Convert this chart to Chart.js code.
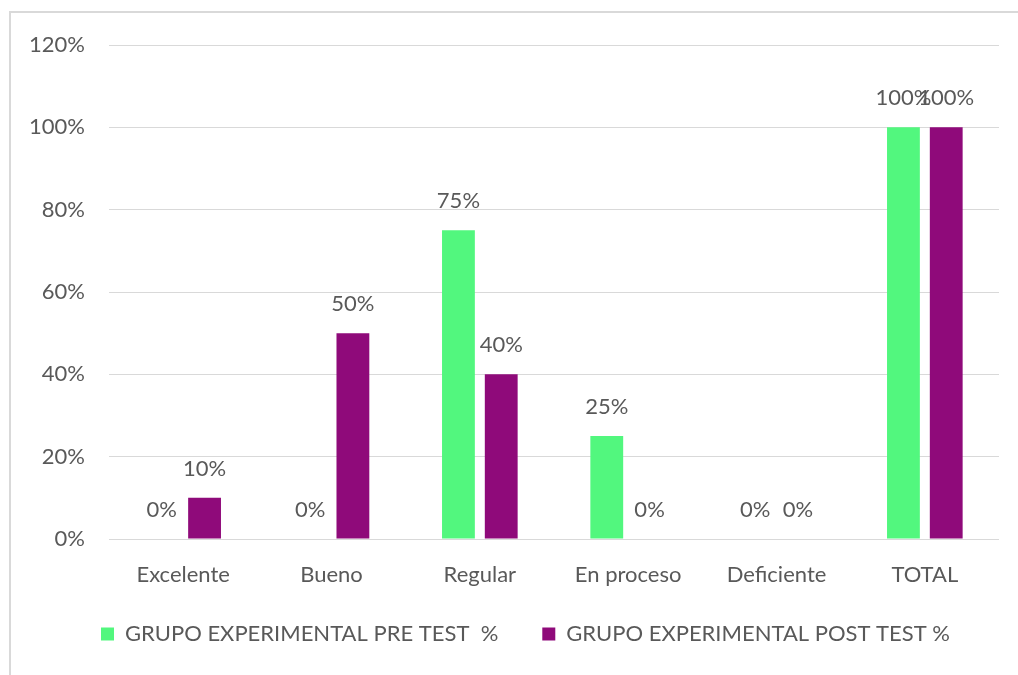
<!DOCTYPE html>
<html>
<head>
<meta charset="utf-8">
<script src="https://cdn.jsdelivr.net/npm/chart.js@4/dist/chart.umd.min.js"></script>
<style>
  body { margin: 0; background: #fff; }
  #frame { position: absolute; left: 9px; top: 11px; width: 1020px; height: 680px; border-left: 2px solid #d9d9d9; border-top: 2px solid #d9d9d9; }
  canvas { position: absolute; left: 0; top: 0; }
</style>
</head>
<body>
<div id="frame"></div>
<canvas id="chart" width="1018" height="675"></canvas>
<script>
// Data
const categories = ["Excelente", "Bueno", "Regular", "En proceso", "Deficiente", "TOTAL"];
const preTest = [0, 0, 75, 25, 0, 100];
const postTest = [10, 50, 40, 0, 0, 100];
const seriesNames = ["GRUPO EXPERIMENTAL PRE TEST  %", "GRUPO EXPERIMENTAL POST TEST %"];

const textColor = "#595959";
const fontFamily = "Lato, 'Open Sans', sans-serif";
const fontSize = 22;

// draws the % labels above each bar
const valueLabels = {
    id: "valueLabels",
    afterDatasetsDraw(chart) {
        let ctx = chart.ctx;
        ctx.save();
        ctx.fillStyle = textColor;
        ctx.font = fontSize + "px " + fontFamily;
        ctx.textAlign = "center";
        ctx.textBaseline = "alphabetic";
        chart.data.datasets.forEach((ds, i) => {
            chart.getDatasetMeta(i).data.forEach((bar, j) => {
                ctx.fillText(ds.data[j] + "%", bar.x, bar.y - 22);
            });
        });
        ctx.restore();
    }
};

// nudge the legend a bit closer to the axis and right, like the original
const legendNudge = {
    id: "legendNudge",
    afterLayout(chart) {
        let lg = chart.legend;
        lg.top -= 10;
        lg.bottom -= 10;
        lg.left += 26;
        lg.right += 26;
    }
};

new Chart(document.getElementById("chart"), {
    type: "bar",
    data: {
        labels: categories,
        datasets: [
            { label: seriesNames[0], data: preTest, backgroundColor: "#52f77e" },
            { label: seriesNames[1], data: postTest, backgroundColor: "#8f0a7a" }
        ]
    },
    options: {
        responsive: false,
        animation: false,
        categoryPercentage: 0.577,
        barPercentage: 0.767,
        layout: { padding: { left: 0, right: 19, top: 45, bottom: 10 } },
        plugins: {
            tooltip: { enabled: false },
            legend: {
                position: "bottom",
                labels: {
                    color: textColor,
                    font: { family: fontFamily, size: fontSize },
                    boxWidth: 13,
                    boxHeight: 13,
                    padding: 44
                }
            }
        },
        scales: {
            x: {
                grid: { display: false, drawTicks: false },
                border: { display: false },
                ticks: { color: textColor, font: { family: fontFamily, size: fontSize }, padding: 23 },
                afterFit: s => { s.height = 50; }
            },
            y: {
                min: 0,
                max: 120,
                ticks: {
                    stepSize: 20,
                    color: textColor,
                    font: { family: fontFamily, size: fontSize },
                    padding: 24,
                    callback: v => v + "%"
                },
                grid: { color: "#d9d9d9", lineWidth: 1, drawTicks: false },
                border: { display: false },
                afterFit: s => { s.width = 109; }
            }
        }
    },
    plugins: [valueLabels, legendNudge]
});
</script>
</body>
</html>
